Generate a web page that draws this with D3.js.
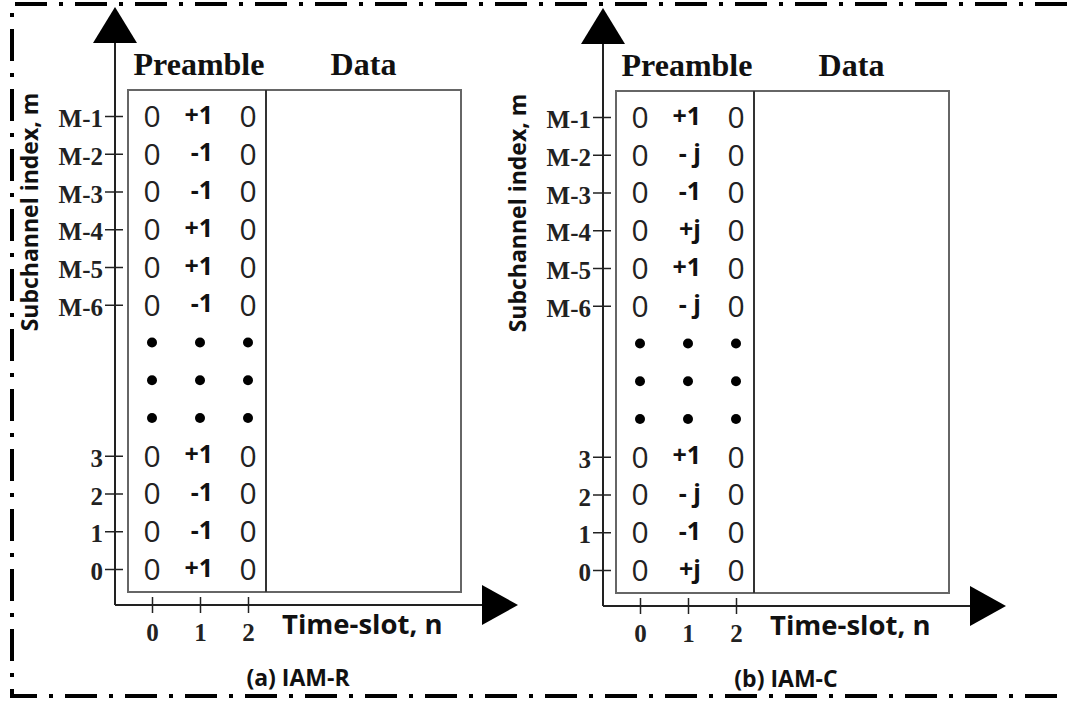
<!DOCTYPE html>
<html>
<head>
<meta charset="utf-8">
<script src="https://cdn.jsdelivr.net/npm/d3@7"></script>
<style>
  body { margin: 0; background: #fff; }
  svg { display: block; }
</style>
</head>
<body>
<svg id="chart"></svg>
<script>
// rows of the subchannel axis, top to bottom (dot rows are the "..." gap)
const rows = ["M-1", "M-2", "M-3", "M-4", "M-5", "M-6", "dot1", "dot2", "dot3", "3", "2", "1", "0"];
const labelRows = ["M-1", "M-2", "M-3", "M-4", "M-5", "M-6", "3", "2", "1", "0"];
const dotRows = ["dot1", "dot2", "dot3"];
const timeSlots = [0, 1, 2];

// middle preamble symbol per labelled row
const iamRValues = ["+1", "-1", "-1", "+1", "+1", "-1", "+1", "-1", "-1", "+1"];
const iamCValues = ["+1", "- j", "-1", "+j", "+1", "- j", "+1", "- j", "-1", "+j"];
const sideValue = "0"; // slots 0 and 2

const captions = ["(a) IAM-R", "(b) IAM-C"];
const sectionLabels = ["Preamble", "Data"];
const xLabel = "Time-slot, n";
const yLabel = "Subchannel index, m";

const width = 1067;
const height = 702;
const serif = "'Liberation Serif', 'Times New Roman', serif";
const sans = "'Open Sans', 'Noto Sans', sans-serif";

const svg = d3.select("#chart").attr("width", width).attr("height", height);

// dash-dot frame (open on the right)
svg.append("path")
  .attr("d", `M${width},4 H12 V696 H${width}`)
  .attr("fill", "none")
  .attr("stroke", "#000")
  .attr("stroke-width", 4)
  .attr("stroke-dasharray", "32,12,4,12");

// panel layout (panel a coordinates, b is shifted)
const axisX = 115;
const axisY = 605;
const box = { left: 128, right: 461, top: 90, bottom: 592, split: 266 };

const yScale = d3.scalePoint().domain(rows).range([116, 569]);
const xScale = d3.scaleLinear().domain([0, 2]).range([152, 248]);

const drawPanel = (g, values, caption) => {
  // box
  g.append("rect")
    .attr("x", box.left).attr("y", box.top)
    .attr("width", box.right - box.left).attr("height", box.bottom - box.top)
    .attr("fill", "none").attr("stroke", "#666").attr("stroke-width", 2);
  g.append("line")
    .attr("x1", box.split).attr("x2", box.split)
    .attr("y1", box.top).attr("y2", box.bottom)
    .attr("stroke", "#333").attr("stroke-width", 2);

  // section titles
  g.selectAll(".section")
    .data(sectionLabels)
    .enter()
    .append("text")
    .attr("class", "section")
    .attr("x", (d, i) => i === 0 ? (box.left + box.split) / 2 + 2 : (box.split + box.right) / 2)
    .attr("y", 75)
    .attr("text-anchor", "middle")
    .attr("font-family", serif)
    .attr("font-weight", "bold")
    .attr("font-size", 32)
    .attr("fill", "#111")
    .text((d) => d);

  // axes lines + arrowheads
  g.append("line")
    .attr("x1", axisX).attr("x2", axisX).attr("y1", 40).attr("y2", axisY)
    .attr("stroke", "#222").attr("stroke-width", 2);
  g.append("line")
    .attr("x1", axisX).attr("x2", 485).attr("y1", axisY).attr("y2", axisY)
    .attr("stroke", "#222").attr("stroke-width", 2);
  g.append("path")
    .attr("d", `M${axisX},7 L${axisX + 22},43 L${axisX - 22},43 Z`)
    .attr("fill", "#000");
  g.append("path")
    .attr("d", `M518,${axisY} L482,${axisY - 20} L482,${axisY + 20} Z`)
    .attr("fill", "#000");

  // y axis ticks
  const yAxis = d3.axisLeft(yScale).tickValues(labelRows).tickSize(10).tickPadding(2);
  const yAxisG = g.append("g")
    .attr("transform", `translate(${axisX},0)`)
    .call(yAxis);
  yAxisG.select(".domain").remove();
  yAxisG.selectAll(".tick line").attr("x1", 8).attr("x2", -10).attr("stroke", "#222").attr("stroke-width", 1.5);
  yAxisG.selectAll(".tick text")
    .attr("font-family", serif)
    .attr("font-weight", "bold")
    .attr("font-size", 25)
    .attr("fill", "#222")
    .attr("dy", "0.42em");

  // x axis ticks
  const xAxis = d3.axisBottom(xScale).tickValues(timeSlots).tickFormat(d3.format("d")).tickSize(8).tickPadding(10);
  const xAxisG = g.append("g")
    .attr("transform", `translate(0,${axisY})`)
    .call(xAxis);
  xAxisG.select(".domain").remove();
  xAxisG.selectAll(".tick line").attr("y1", -8).attr("y2", 8).attr("stroke", "#222").attr("stroke-width", 1.5);
  xAxisG.selectAll(".tick text")
    .attr("font-family", serif)
    .attr("font-weight", "bold")
    .attr("font-size", 25)
    .attr("fill", "#222");

  // axis labels
  g.append("text")
    .attr("x", 282).attr("y", 634)
    .attr("font-family", sans).attr("font-weight", "bold").attr("font-size", 27.5)
    .attr("fill", "#111")
    .text(xLabel);
  g.append("text")
    .attr("transform", "translate(38,212) rotate(-90)")
    .attr("text-anchor", "middle")
    .attr("font-family", sans).attr("font-weight", "bold").attr("font-size", 23)
    .attr("fill", "#111")
    .text(yLabel);

  // caption
  g.append("text")
    .attr("x", 298).attr("y", 686)
    .attr("text-anchor", "middle")
    .attr("font-family", sans).attr("font-weight", "bold").attr("font-size", 23)
    .attr("fill", "#111")
    .text(caption);

  // preamble cells
  const cells = [];
  labelRows.forEach((r, i) => {
    cells.push({ row: r, slot: 0, v: sideValue });
    cells.push({ row: r, slot: 1, v: values[i] });
    cells.push({ row: r, slot: 2, v: sideValue });
  });

  g.selectAll(".zero")
    .data(cells.filter((c) => c.slot !== 1))
    .enter()
    .append("text")
    .attr("class", "zero")
    .attr("x", (d) => xScale(d.slot))
    .attr("y", (d) => yScale(d.row))
    .attr("dy", "0.36em")
    .attr("text-anchor", "middle")
    .attr("font-family", sans)
    .attr("font-size", 30)
    .attr("fill", "#222")
    .text((d) => d.v);

  g.selectAll(".sym")
    .data(cells.filter((c) => c.slot === 1))
    .enter()
    .append("text")
    .attr("class", "sym")
    .attr("x", (d) => xScale(d.slot) + 13)
    .attr("y", (d) => yScale(d.row))
    .attr("dy", "0.3em")
    .attr("text-anchor", "end")
    .attr("font-family", sans)
    .attr("font-weight", "bold")
    .attr("font-size", 25)
    .attr("fill", "#111")
    .text((d) => d.v);

  // vertical ellipsis dots
  const dots = [];
  dotRows.forEach((r) => timeSlots.forEach((s) => dots.push({ row: r, slot: s })));
  g.selectAll(".dot")
    .data(dots)
    .enter()
    .append("circle")
    .attr("class", "dot")
    .attr("cx", (d) => xScale(d.slot))
    .attr("cy", (d) => yScale(d.row))
    .attr("r", 5)
    .attr("fill", "#000");
};

drawPanel(svg.append("g"), iamRValues, captions[0]);
drawPanel(svg.append("g").attr("transform", "translate(488,1)"), iamCValues, captions[1]);
</script>
</body>
</html>
